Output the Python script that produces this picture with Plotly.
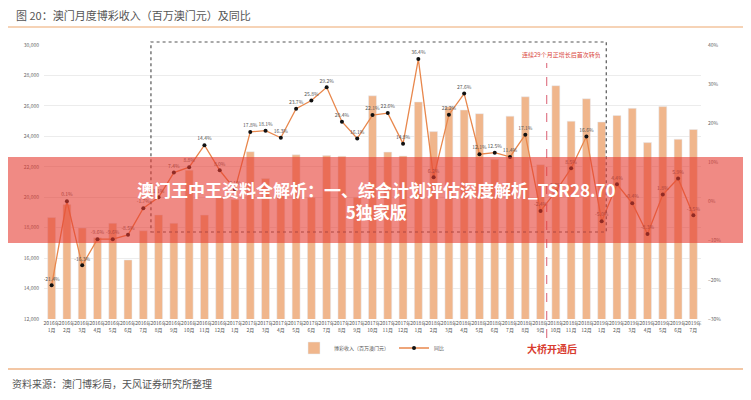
import plotly.graph_objects as go

months = []
for y, n in [(2016, 12), (2017, 12), (2018, 12), (2019, 7)]:
    for m in range(1, n + 1):
        months.append(f"{y}年<br>{m}月")

ggr = [18674, 19521, 17981, 17336, 18290, 15881, 17798, 18838, 18288, 21779, 18826, 19964,
       19855, 22994, 21232, 20163, 22784, 19990, 22735, 22694, 20005, 26663, 22964, 22709,
       26259, 24311, 25947, 25729, 25487, 22490, 25327, 26599, 22131, 27327, 24998, 26469,
       24942, 25370, 25840, 23588, 25952, 23812, 24453]
yoy = [-21.4, 0.1, -16.3, -9.6, -9.6, -8.5, -1.7, 1.1, 7.4, 8.8, 14.4, 8.0,
       3.1, 17.8, 18.1, 16.3, 23.7, 25.8, 29.2, 20.4, 16.1, 22.1, 22.6, 14.8,
       36.4, 6.2, 22.2, 27.6, 12.1, 12.5, 11.4, 17.1, -2.4, 2.6, 8.5, 16.6,
       -5.0, 4.4, -0.4, -8.3, 1.8, 5.9, -3.5]
x = list(range(len(months)))

font = "Noto Sans CJK SC, Noto Sans, sans-serif"
OFF = 8  # page body margin
W, H = 751 - OFF, 400 - OFF
L, R, T, B = 44 - OFF, 751 - 701, 45 - OFF, 400 - 319
pw, ph = W - L - R, H - T - B
def px(xp):
    return (xp - OFF - L) / pw
def py(yp):
    return (H - B - (yp - OFF)) / ph

fig = go.Figure()
fig.add_trace(go.Bar(x=x, y=ggr, name="博彩收入（百万澳门元）", marker_color="#f0b68c",
                     yaxis="y"))
fig.add_trace(go.Scatter(x=x, y=yoy, name="同比", yaxis="y2", mode="lines+markers+text",
                         line=dict(color="#e8874c", width=1.3),
                         marker=dict(color="#111", size=4),
                         text=[f"{v:.1f}%" for v in yoy], textposition="top center",
                         textfont=dict(size=5, color="#555")))

shapes = [
    dict(type="line", xref="paper", yref="paper", x0=px(5), x1=px(746), y0=py(27), y1=py(27),
         line=dict(color="#f6d3b6", width=2)),
    dict(type="line", xref="paper", yref="paper", x0=px(8), x1=px(746), y0=py(369), y1=py(369),
         line=dict(color="#f3c7a5", width=2)),
    dict(type="rect", xref="x", yref="paper", x0=6.5, x1=36.3, y0=py(232), y1=py(42),
         line=dict(color="#555", width=1.2, dash="dot")),
    dict(type="line", xref="x", yref="paper", x0=32.4, x1=32.4, y0=py(338), y1=py(63),
         line=dict(color="#e07a8a", width=1.2, dash="dash")),
    dict(type="rect", xref="paper", yref="paper", x0=px(0), x1=px(760), y0=py(243), y1=py(157),
         fillcolor="rgba(230,60,50,0.6)", line=dict(width=0), layer="above"),
]

annotations = [
    dict(text="图 20：澳门月度博彩收入（百万澳门元）及同比", xref="paper", yref="paper",
         x=px(14), y=py(15), xanchor="left", yanchor="middle", showarrow=False,
         font=dict(size=11, color="#555", family=font)),
    dict(text="资料来源：澳门博彩局，天风证券研究所整理", xref="paper", yref="paper",
         x=px(10), y=py(383), xanchor="left", yanchor="middle", showarrow=False,
         font=dict(size=10, color="#555", family=font)),
    dict(text="连续29个月正增长后首次转负", xref="paper", yref="paper",
         x=px(603), y=py(55), xanchor="right", yanchor="middle", showarrow=False,
         font=dict(size=6, color="#d9463c", family=font)),
    dict(text="<b>大桥开通后</b>", xref="paper", yref="paper",
         x=px(552), y=py(348), xanchor="center", yanchor="middle", showarrow=False,
         font=dict(size=10, color="#d83b2e", family=font)),
    dict(text="<b>澳门王中王资料全解析：一、综合计划评估深度解析_TSR28.70<br>5独家版</b>",
         xref="paper", yref="paper", x=px(376), y=py(200), xanchor="center", yanchor="middle",
         showarrow=False, font=dict(size=17, color="white", family=font)),
]

fig.update_layout(
    width=W, height=H, margin=dict(l=L, r=R, t=T, b=B, autoexpand=False),
    paper_bgcolor="white", plot_bgcolor="white",
    font=dict(family=font, color="#555"),
    bargap=0.48, showlegend=True,
    legend=dict(orientation="h", x=px(372), y=py(348), xanchor="center", yanchor="middle",
                font=dict(size=5, color="#555"), itemwidth=30, bgcolor="rgba(0,0,0,0)"),
    xaxis=dict(tickmode="array", tickvals=x, ticktext=months, tickangle=0,
               tickfont=dict(size=5, color="#555"), range=[-0.5, 42.5], showgrid=False,
               showline=False, ticks=""),
    yaxis=dict(range=[12000, 30000], dtick=2000, tickformat=",", showgrid=True,
               gridcolor="#ececec", zeroline=False, tickfont=dict(size=5, color="#666"),
               ticklabelstandoff=4),
    yaxis2=dict(range=[-30, 40], dtick=10, ticksuffix="%", overlaying="y", side="right",
                showgrid=False, zeroline=False, tickfont=dict(size=5, color="#666"),
                ticklabelstandoff=6),
    shapes=shapes, annotations=annotations,
)
fig.write_html("out.html")
